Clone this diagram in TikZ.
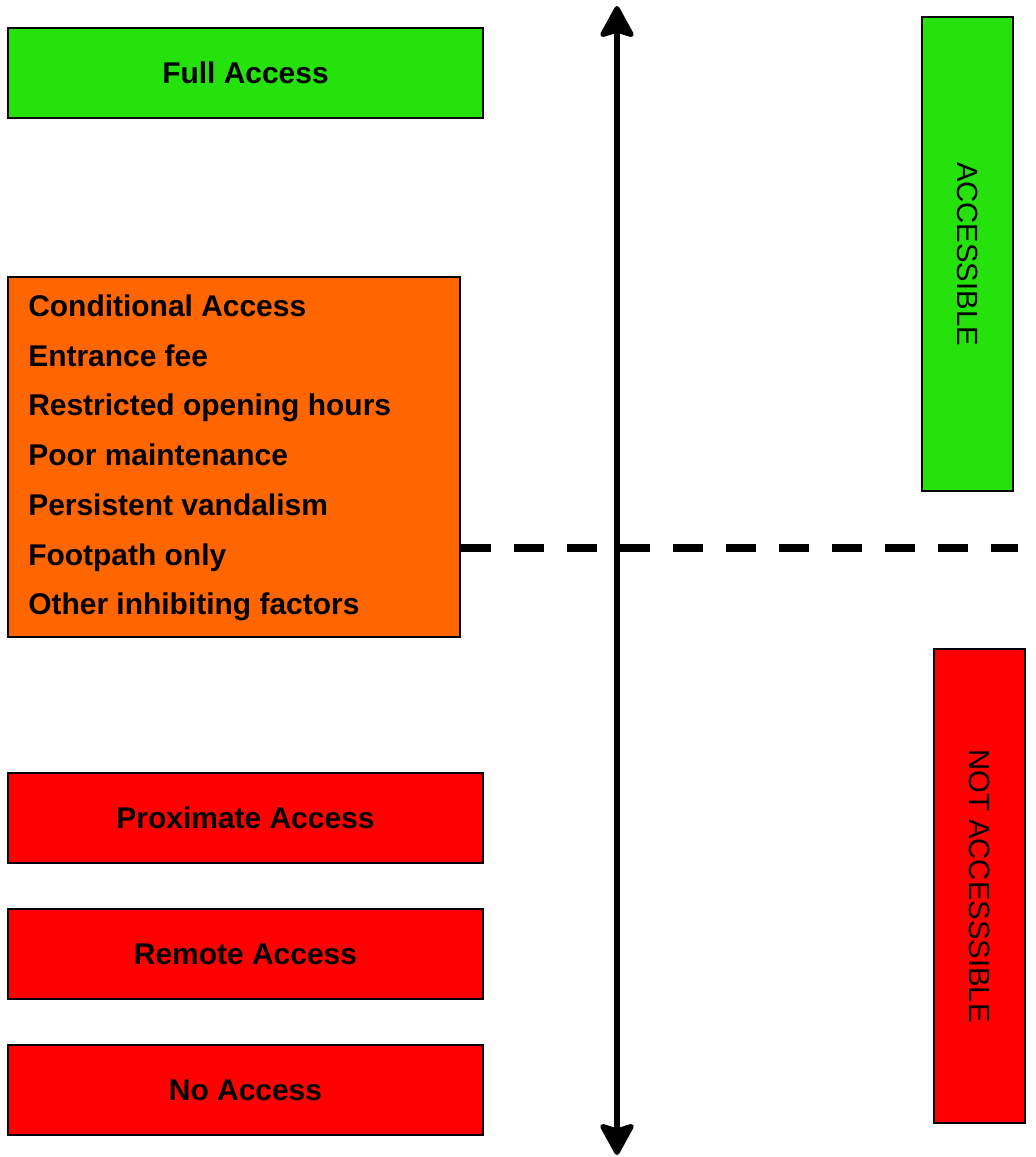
\documentclass[tikz,border=0pt]{standalone}
\usepackage{fontspec}
\setmainfont{Liberation Sans}
\usetikzlibrary{arrows.meta}
\definecolor{accgreen}{RGB}{38,226,12}
\definecolor{condorange}{RGB}{255,102,0}
\definecolor{noaccred}{RGB}{255,0,0}
\tikzset{levelbox/.style={draw, line width=1.4pt, minimum width=11.875cm, minimum height=2.25cm,
    inner sep=0pt, font=\fontsize{21.3}{25}\selectfont\bfseries}}
\tikzset{sidebar/.style={draw, line width=1.4pt, rotate=-90, minimum width=11.85cm, minimum height=2.275cm,
    inner sep=0pt, font=\fontsize{20.8}{24}\selectfont}}
\tikzset{axis/.style={line width=3.6pt, {Stealth[length=25pt, width=27pt, inset=4pt, round]}-{Stealth[length=25pt, width=27pt, inset=4pt, round]}}}
\tikzset{divide/.style={line width=5.2pt, dash pattern=on 21.3pt off 16.4pt}}

\begin{document}
\begin{tikzpicture}[x=0.025cm, y=-0.025cm]
    \useasboundingbox (0,0) rectangle (1036,1157);

    % Levels of access
    \node[levelbox, fill=accgreen] (full) at (245.5,73) {Full Access};
    \node[levelbox, fill=condorange, minimum width=11.3cm, minimum height=9cm] (cond) at (234,457) {};
    \node[anchor=west, align=left, inner sep=0pt, font=\fontsize{21.3}{35.35}\selectfont\bfseries] (condtext) at (28,458)
        {Conditional Access\\Entrance fee\\Restricted opening hours\\Poor maintenance\\Persistent vandalism\\Footpath only\\Other inhibiting factors};
    \node[levelbox, fill=noaccred] (prox) at (245.5,818) {Proximate Access};
    \node[levelbox, fill=noaccred] (remote) at (245.5,954) {Remote Access};
    \node[levelbox, fill=noaccred] (none) at (245.5,1090) {No Access};

    % Side labels
    \node[sidebar, fill=accgreen] (acc) at (967.5,254) {ACCESSIBLE};
    \node[sidebar, fill=noaccred] (notacc) at (979.5,886) {NOT ACCESSSIBLE};

    % Divide
    \coordinate (divR) at (1018,548);
    \draw[divide] (cond.east |- divR) -- (divR);

    % Scale
    \coordinate (axtop) at (617,6);
    \coordinate (axbot) at (617,1155);
    \draw[axis] (axtop) -- (axbot);
\end{tikzpicture}
\end{document}
